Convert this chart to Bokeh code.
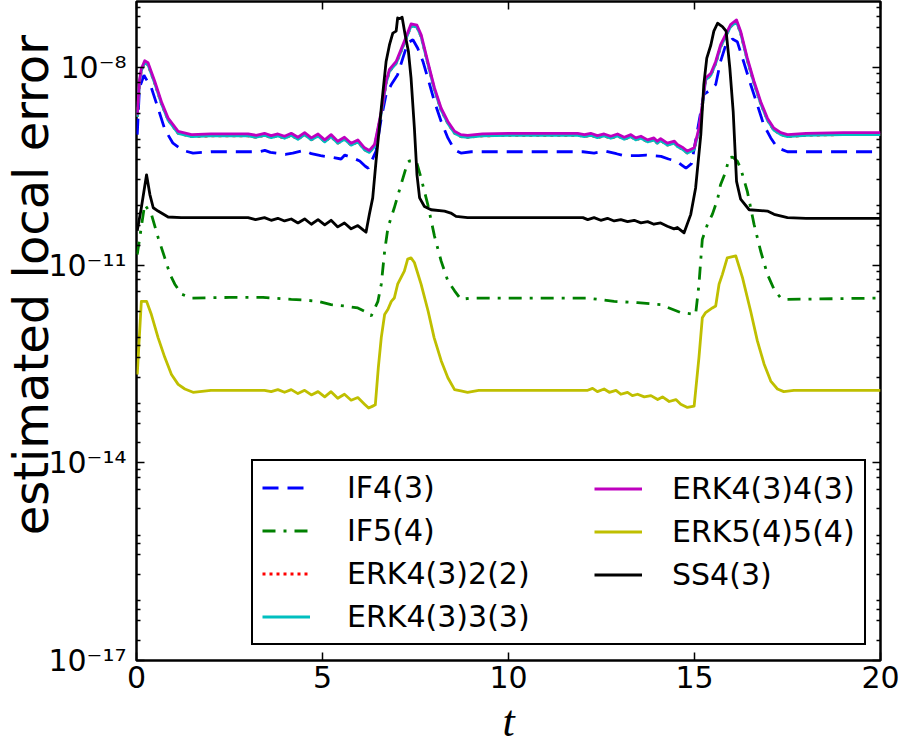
import math
import numpy as np
from bokeh.plotting import figure
from bokeh.models import (Range1d, FixedTicker, LinearAxis, LogAxis, Legend, LegendItem,
                          CustomJSTickFormatter)
from bokeh.embed import file_html
from bokeh.resources import INLINE

# ---------------- data (log10 of estimated local error) ----------------
t_if4 = [0.02, 0.08, 0.20, 0.40, 0.58, 0.76, 0.98, 1.25, 1.52,
         2.0, 2.6, 3.3, 3.45, 3.6, 4.0, 4.2, 4.5, 4.7, 4.95, 5.2, 5.5, 5.6, 5.8, 6.0, 6.15, 6.23,
         6.44, 6.58, 6.71, 6.85, 7.02, 7.16, 7.29, 7.43, 7.56, 7.70, 7.83, 8.01, 8.19, 8.37, 8.55, 8.72,
         9.0, 10.0, 11.0, 12.0,
         12.3, 12.6, 12.9, 13.1, 13.5, 13.7, 14.1, 14.3, 14.5, 14.63, 14.77, 14.92,
         15.17, 15.25, 15.44, 15.57, 15.70, 15.84, 16.02, 16.15, 16.33, 16.51, 16.69, 16.86, 17.05,
         17.23, 17.5, 18.5, 20.0]
if4_log10 = [-9.02, -8.31, -8.12, -8.31, -8.62, -8.94, -9.15, -9.26, -9.30,
             -9.28, -9.28, -9.28, -9.26, -9.29, -9.32, -9.30, -9.26, -9.31, -9.34, -9.36, -9.39, -9.33,
             -9.37, -9.42, -9.50, -9.53,
             -9.27, -8.77, -8.41, -8.26, -8.11, -7.86, -7.63, -7.58, -7.71, -7.91, -8.16, -8.52, -8.82,
             -9.07, -9.25, -9.30,
             -9.28, -9.28, -9.28, -9.28,
             -9.30, -9.27, -9.31, -9.34, -9.34, -9.33, -9.35, -9.39, -9.42, -9.47, -9.53, -9.46,
             -8.67, -8.41, -8.34, -8.26, -7.91, -7.66, -7.57, -7.61, -7.93, -8.26, -8.57, -8.87, -9.07,
             -9.22, -9.28, -9.28, -9.28]

t_if5 = [0.02, 0.22, 0.40, 0.58, 0.76, 0.90, 1.03, 1.21, 1.48, 2.5, 3.4,
         4.16, 4.52, 4.88, 5.23, 5.59, 5.95, 6.13, 6.31,
         6.49, 6.58, 6.67, 6.76, 6.93, 7.11, 7.29, 7.34, 7.52, 7.65, 7.83, 8.01, 8.19, 8.37, 8.55, 8.72, 9.0,
         12.13, 12.84, 13.47, 14.09, 14.63, 15.03,
         15.12, 15.21, 15.35, 15.48, 15.62, 15.70, 15.84, 15.93, 16.02, 16.15, 16.24, 16.42, 16.60,
         16.78, 16.96, 17.14, 17.32, 17.5, 20.0]
if5_log10 = [-10.84, -10.08, -10.23, -10.58, -10.89, -11.14, -11.29, -11.44, -11.50, -11.49, -11.49,
             -11.52, -11.53, -11.55, -11.60, -11.62, -11.65, -11.70, -11.77,
             -11.55, -11.29, -10.79, -10.43, -10.13, -9.78, -9.44, -9.42, -9.42, -9.68, -10.08, -10.56,
             -10.94, -11.24, -11.39, -11.52, -11.50,
             -11.50, -11.55, -11.57, -11.60, -11.72, -11.75,
             -11.29, -10.61, -10.38, -10.23, -10.0, -9.78, -9.58, -9.37, -9.36, -9.42, -9.53, -9.88,
             -10.38, -10.79, -11.14, -11.37, -11.50, -11.52, -11.50]

t_erk4x = [0.02, 0.08, 0.13, 0.22, 0.31, 0.49, 0.67, 0.85, 1.12, 1.48, 2.0, 2.8,
           3.0, 3.22, 3.44, 3.62, 3.80, 3.98, 4.16, 4.34, 4.52, 4.70, 4.88, 5.06, 5.23, 5.41, 5.59,
           5.77, 5.95, 6.13, 6.26, 6.40,
           6.58, 6.71, 6.80, 6.98, 7.11, 7.25, 7.38, 7.54, 7.65, 7.83, 8.01, 8.19, 8.37, 8.55, 8.72, 8.90,
           9.3, 10.0, 11.0, 11.86,
           12.04, 12.21, 12.39, 12.57, 12.75, 12.93, 13.11, 13.29, 13.42, 13.56, 13.74, 13.91, 14.0,
           14.09, 14.27, 14.46, 14.54, 14.67, 14.81, 14.99,
           15.12, 15.22, 15.30, 15.44, 15.57, 15.70, 15.84, 15.97, 16.13, 16.24, 16.42, 16.60, 16.78,
           16.96, 17.13, 17.32, 17.5, 18.0, 19.0, 20.0]
erk4343_log10 = [-8.72, -8.20, -8.02, -7.90, -7.93, -8.21, -8.52, -8.77, -8.97, -9.02, -9.01, -9.01,
                 -9.01, -9.03, -9.00, -9.035, -9.01, -9.045, -9.00, -9.06, -8.99, -9.07, -9.01, -9.10,
                 -9.02, -9.12, -9.06, -9.15, -9.10, -9.22, -9.26, -9.17,
                 -8.67, -8.21, -8.03, -7.91, -7.73, -7.53, -7.34, -7.36, -7.50, -7.91, -8.31, -8.62,
                 -8.82, -8.97, -9.02, -9.03,
                 -9.01, -9.00, -9.00, -9.00,
                 -9.02, -9.00, -9.035, -9.01, -9.045, -9.01, -9.06, -9.02, -9.07, -9.045, -9.10, -9.07,
                 -9.12, -9.08, -9.15, -9.12, -9.17, -9.21, -9.27, -9.22,
                 -8.92, -8.52, -8.16, -8.09, -7.91, -7.66, -7.50, -7.35, -7.28, -7.45, -7.86, -8.21,
                 -8.52, -8.77, -8.92, -8.99, -9.02, -9.00, -8.99, -8.99]
erk4333_log10 = [-8.75, -8.23, -8.05, -7.93, -7.96, -8.24, -8.55, -8.80, -9.00, -9.05, -9.04, -9.04,
                 -9.04, -9.06, -9.03, -9.065, -9.04, -9.075, -9.03, -9.09, -9.02, -9.10, -9.04, -9.13,
                 -9.05, -9.15, -9.09, -9.18, -9.13, -9.25, -9.29, -9.20,
                 -8.70, -8.24, -8.06, -7.94, -7.76, -7.56, -7.37, -7.39, -7.53, -7.94, -8.34, -8.65,
                 -8.85, -9.00, -9.05, -9.06,
                 -9.04, -9.03, -9.03, -9.03,
                 -9.05, -9.03, -9.065, -9.04, -9.075, -9.04, -9.09, -9.05, -9.10, -9.075, -9.13, -9.10,
                 -9.15, -9.11, -9.18, -9.15, -9.20, -9.24, -9.30, -9.25,
                 -8.95, -8.55, -8.19, -8.12, -7.94, -7.69, -7.53, -7.38, -7.31, -7.48, -7.89, -8.24,
                 -8.55, -8.80, -8.95, -9.02, -9.05, -9.03, -9.02, -9.02]
# ERK4(3)2(2) lies underneath the ERK4(3)3(3) curve everywhere (hidden in the picture)
erk4322_log10 = [-8.75, -8.23, -8.05, -7.93, -7.96, -8.24, -8.55, -8.80, -9.00, -9.05, -9.04, -9.04,
                 -9.04, -9.06, -9.03, -9.065, -9.04, -9.075, -9.03, -9.09, -9.02, -9.10, -9.04, -9.13,
                 -9.05, -9.15, -9.09, -9.18, -9.13, -9.25, -9.29, -9.20,
                 -8.70, -8.24, -8.06, -7.94, -7.76, -7.56, -7.37, -7.39, -7.53, -7.94, -8.34, -8.65,
                 -8.85, -9.00, -9.05, -9.06,
                 -9.04, -9.03, -9.03, -9.03,
                 -9.05, -9.03, -9.065, -9.04, -9.075, -9.04, -9.09, -9.05, -9.10, -9.075, -9.13, -9.10,
                 -9.15, -9.11, -9.18, -9.15, -9.20, -9.24, -9.30, -9.25,
                 -8.95, -8.55, -8.19, -8.12, -7.94, -7.69, -7.53, -7.38, -7.31, -7.48, -7.89, -8.24,
                 -8.55, -8.80, -8.95, -9.02, -9.05, -9.03, -9.02, -9.02]

t_erk54 = [0.02, 0.13, 0.27, 0.40, 0.58, 0.76, 0.94, 1.12, 1.30, 1.52, 2.0, 3.0,
           3.44, 3.62, 3.80, 3.98, 4.16, 4.34, 4.52, 4.70, 4.88, 5.06, 5.23, 5.41, 5.59, 5.77, 5.95, 6.13,
           6.24, 6.35, 6.42,
           6.50, 6.58, 6.67, 6.76, 6.85, 6.93, 7.02, 7.11, 7.20, 7.29, 7.38, 7.47, 7.65, 7.84, 8.00, 8.19,
           8.37, 8.55, 8.72, 8.9, 9.2, 12.0,
           12.13, 12.26, 12.39, 12.57, 12.71, 12.89, 13.02, 13.20, 13.33, 13.47, 13.65, 13.83, 14.01,
           14.14, 14.32, 14.50, 14.63, 14.81, 14.99,
           15.12, 15.21, 15.30, 15.48, 15.57, 15.66, 15.75, 15.88, 16.11, 16.29, 16.51, 16.69, 16.87,
           17.05, 17.23, 17.40, 17.67, 20.0]
erk54_log10 = [-12.66, -11.55, -11.55, -11.75, -12.10, -12.40, -12.66, -12.81, -12.88, -12.93, -12.90, -12.90,
               -12.90, -12.92, -12.89, -12.93, -12.89, -12.95, -12.90, -12.97, -12.92, -13.00, -12.92,
               -13.02, -12.96, -13.05, -13.01, -13.11,
               -13.17, -13.14, -13.12,
               -12.56, -12.10, -11.75, -11.67, -11.55, -11.50, -11.29, -11.19, -11.09, -10.91, -10.89,
               -10.96, -11.29, -11.70, -12.10, -12.45, -12.71, -12.89, -12.91, -12.93, -12.90, -12.90,
               -12.90, -12.87, -12.92, -12.88, -12.93, -12.90, -12.96, -12.93, -12.98, -12.96, -13.00,
               -12.98, -13.04, -13.00, -13.07, -13.04, -13.11, -13.16, -13.14,
               -12.40, -11.80, -11.72, -11.65, -11.62, -11.29, -11.14, -10.89, -10.86, -11.19, -11.70,
               -12.15, -12.50, -12.76, -12.88, -12.92, -12.90, -12.90]

t_ss4 = [0.02, 0.13, 0.27, 0.36, 0.45, 0.58, 0.85, 1.2, 2.0, 3.0,
         3.2, 3.44, 3.62, 3.80, 3.98, 4.16, 4.34, 4.52, 4.70, 4.88, 5.06, 5.23, 5.41, 5.59, 5.77, 5.95,
         6.10, 6.17,
         6.26, 6.35, 6.44, 6.58, 6.71, 6.80, 6.89, 6.98, 7.02, 7.08, 7.14, 7.22, 7.31, 7.38, 7.47, 7.54,
         7.61, 7.74, 7.92, 8.28, 8.45, 8.59, 8.9,
         10.0, 11.0, 12.0,
         12.13, 12.30, 12.48, 12.66, 12.84, 13.02, 13.20, 13.38, 13.56, 13.74, 13.91, 14.09, 14.27,
         14.45, 14.54, 14.72,
         14.9, 15.03, 15.17, 15.25, 15.33, 15.44, 15.52, 15.62, 15.75, 15.85, 15.95, 16.04, 16.13,
         16.24, 16.47, 16.96, 17.14, 17.5, 18.0, 20.0]
ss4_log10 = [-10.48, -10.13, -9.63, -9.93, -10.13, -10.18, -10.27, -10.28, -10.28, -10.28,
             -10.31, -10.28, -10.32, -10.29, -10.33, -10.30, -10.36, -10.30, -10.38, -10.31, -10.39,
             -10.32, -10.42, -10.36, -10.45, -10.40, -10.47, -10.50,
             -10.23, -9.98, -9.42, -8.62, -7.91, -7.66, -7.48, -7.45, -7.25, -7.26, -7.24, -7.50, -7.76,
             -8.16, -8.92, -9.63, -9.98, -10.11, -10.16, -10.18, -10.21, -10.26, -10.28,
             -10.28, -10.28, -10.28,
             -10.31, -10.28, -10.32, -10.29, -10.33, -10.31, -10.34, -10.32, -10.36, -10.34, -10.38,
             -10.36, -10.41, -10.45, -10.43, -10.51,
             -10.23, -9.83, -9.02, -8.26, -7.86, -7.66, -7.45, -7.33, -7.38, -7.45, -8.01, -8.67, -9.73,
             -10.0, -10.16, -10.18, -10.23, -10.28, -10.29, -10.29]

x_ticks = [0, 5, 10, 15, 20]
y_major_exponents = [-17, -14, -11, -8]

# ---------------- figure ----------------
FONT = "DejaVu Sans"
p = figure(width=900, height=750, title=None,
           x_range=Range1d(0, 20), y_range=Range1d(1e-17, 1e-7), y_axis_type="log",
           output_backend="svg", toolbar_location=None,
           min_border_left=135, min_border_right=20, min_border_top=1, min_border_bottom=90)
p.background_fill_color = "white"
p.border_fill_color = "white"
p.outline_line_color = "black"
p.outline_line_width = 2.5
p.xgrid.visible = False
p.ygrid.visible = False

def ten(arr):
    return [10.0 ** v for v in arr]

LW = 2.8
r_if4 = p.line(t_if4, ten(if4_log10), line_color="#0000ff", line_width=LW, line_dash="16 9")
r_if5 = p.line(t_if5, ten(if5_log10), line_color="#008000", line_width=LW, line_dash="13 8 3 8")
r_e22 = p.line(t_erk4x, ten(erk4322_log10), line_color="#ff0000", line_width=LW, line_dash="3 4")
r_e33 = p.line(t_erk4x, ten(erk4333_log10), line_color="#00bfbf", line_width=LW, line_join="round")
r_e43 = p.line(t_erk4x, ten(erk4343_log10), line_color="#bf00bf", line_width=LW, line_join="round")
r_e54 = p.line(t_erk54, ten(erk54_log10), line_color="#bfbf00", line_width=LW, line_join="round")
r_ss4 = p.line(t_ss4, ten(ss4_log10), line_color="#000000", line_width=LW, line_join="round")

# ---------------- axes ----------------
minor = [m * 10.0 ** e for e in range(-17, -7) for m in (2, 4, 6, 8)]
yticker = FixedTicker(ticks=[10.0 ** e for e in y_major_exponents], minor_ticks=minor)
xticker = FixedTicker(ticks=x_ticks, minor_ticks=[])

fmt = CustomJSTickFormatter(code=r"""
const sup = {"-": "\u207b", "0": "\u2070", "1": "\u00b9", "2": "\u00b2", "3": "\u00b3",
             "4": "\u2074", "5": "\u2075", "6": "\u2076", "7": "\u2077", "8": "\u2078", "9": "\u2079"};
const e = Math.round(Math.log10(tick));
return "10" + String(e).split("").map(c => sup[c]).join("");
""")

def style_axis(ax):
    ax.axis_line_color = None
    ax.major_tick_in = 8
    ax.major_tick_out = 0
    ax.major_tick_line_width = 1.5
    ax.minor_tick_line_width = 1.5
    ax.major_tick_line_color = "black"
    ax.minor_tick_line_color = "black"
    ax.major_label_text_font = FONT
    ax.major_label_text_font_size = "30px"
    ax.major_label_text_color = "black"

xa = p.xaxis[0]
xa.ticker = xticker
style_axis(xa)
xa.minor_tick_in = 0
xa.minor_tick_out = 0
xa.major_label_standoff = 5
xa.axis_label = "t"
xa.axis_label_text_font = "Liberation Serif"
xa.axis_label_text_font_style = "italic"
xa.axis_label_text_font_size = "44px"
xa.axis_label_text_color = "black"
xa.axis_label_standoff = 6

ya = p.yaxis[0]
ya.ticker = yticker
ya.formatter = fmt
style_axis(ya)
ya.minor_tick_in = 4
ya.minor_tick_out = 0
ya.major_label_standoff = 10
# leading no-break spaces raise the centred title a little, as in the reference
ya.axis_label = "\u00a0" * 6 + "estimated local error"
ya.axis_label_text_font = FONT
ya.axis_label_text_font_style = "normal"
ya.axis_label_text_font_size = "48px"
ya.axis_label_text_color = "black"
ya.axis_label_standoff = -14

top = LinearAxis(ticker=xticker)
style_axis(top)
top.minor_tick_in = 0
top.minor_tick_out = 0
top.major_label_text_alpha = 0.0
top.major_label_text_color = None
top.major_label_standoff = 0
p.add_layout(top, "above")

right = LogAxis(ticker=yticker)
style_axis(right)
right.minor_tick_in = 4
right.minor_tick_out = 0
right.major_label_text_alpha = 0.0
right.major_label_text_color = None
right.major_label_standoff = 0
p.add_layout(right, "right")

# ---------------- legend (one box, two columns) ----------------
common = dict(label_text_font=FONT, label_text_font_size="30px", label_text_color="black",
              glyph_width=48, glyph_height=35, label_height=35, spacing=8, margin=0)
leg1 = Legend(items=[LegendItem(label="IF4(3)", renderers=[r_if4]),
                     LegendItem(label="IF5(4)", renderers=[r_if5]),
                     LegendItem(label="ERK4(3)2(2)", renderers=[r_e22]),
                     LegendItem(label="ERK4(3)3(3)", renderers=[r_e33])],
              location=(115, 15), padding=9, label_standoff=37, label_width=508,
              border_line_color="black", border_line_width=2.5, border_line_alpha=1.0,
              background_fill_color="white", background_fill_alpha=1.0, **common)
leg2 = Legend(items=[LegendItem(label="ERK4(3)4(3)", renderers=[r_e43]),
                     LegendItem(label="ERK5(4)5(4)", renderers=[r_e54]),
                     LegendItem(label="SS4(3)", renderers=[r_ss4])],
              location=(458, 68), padding=10, label_standoff=30,
              border_line_color=None, background_fill_alpha=0.0, **common)
p.add_layout(leg1)
p.add_layout(leg2)

open("out.html", "w").write(file_html(p, INLINE))
